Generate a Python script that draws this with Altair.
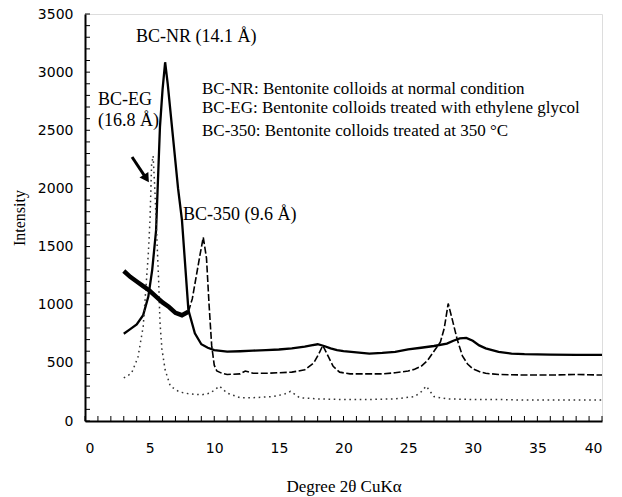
import altair as alt
import pandas as pd

# --- BC-NR: bentonite colloids at normal condition (solid line)
nr_x = [3, 3.5, 4, 4.5, 4.9, 5.2, 5.5, 5.8, 6.0, 6.2, 6.4, 6.8, 7.2, 7.5, 8.0, 8.5, 9.0, 9.5,
        10, 11, 12, 13, 14, 15, 16, 17, 17.5, 18, 18.5, 19, 19.5, 20, 21, 22, 23, 24, 25, 26,
        27, 28, 28.5, 29, 29.5, 30, 30.5, 31, 32, 33, 34, 36, 38, 40]
nr_y = [750, 790, 830, 910, 1070, 1300, 1640, 2530, 2850, 3085, 2900, 2450, 2000, 1730, 955,
        754, 660, 630, 610, 596, 600, 605, 610, 615, 625, 640, 650, 660, 645, 625, 610, 600,
        590, 580, 585, 595, 615, 630, 645, 665, 690, 710, 715, 690, 650, 625, 595, 580, 575,
        570, 568, 568]

# --- BC-EG: treated with ethylene glycol (dotted line)
eg_x = [3, 3.6, 4.1, 4.5, 4.9, 5.03, 5.15, 5.27, 5.4, 5.55, 5.7, 5.8, 5.95, 6.2, 6.6, 7.3, 8,
        9, 9.7, 10.4, 11, 12, 13, 14.5, 15.4, 15.9, 16.6, 18, 20, 22, 24, 25.5, 26, 26.4, 27,
        28, 30, 32, 34, 36, 38, 40]
eg_y = [370, 410, 550, 810, 1440, 1730, 2200, 2280, 2000, 1600, 1200, 850, 620, 440, 300, 250,
        235, 225, 240, 300, 240, 200, 200, 210, 230, 255, 200, 190, 185, 185, 190, 210, 250,
        300, 210, 190, 185, 185, 180, 180, 180, 180]

# --- BC-350: treated at 350 C (noisy low-angle part, then dashed)
h_low_x = [3, 3.5, 4, 4.5, 5, 5.5, 6, 6.5, 7, 7.5, 8]
h_low_y = [1290, 1240, 1200, 1160, 1120, 1070, 1020, 980, 930, 910, 940]
h_x = [8, 8.3, 8.6, 8.9, 9.15, 9.4, 9.6, 9.8, 10.0, 10.2, 10.6, 11, 12, 12.4, 13, 14, 15, 16,
       17, 17.7, 18.1, 18.4, 18.8, 19.2, 19.7, 20.5, 22, 23, 24, 25, 25.5, 26, 26.5, 27, 27.5,
       27.8, 28.1, 28.4, 28.8, 29.2, 29.6, 30, 30.5, 31, 32, 34, 36, 38, 40]
h_y = [940, 1050, 1240, 1430, 1580, 1400, 1000, 650, 480, 430, 410, 400, 405, 430, 410, 410,
       415, 420, 440, 500, 580, 650, 560, 470, 420, 405, 405, 405, 415, 430, 445, 470, 520,
       600, 680, 800, 1010, 880, 700, 560, 490, 450, 425, 410, 400, 395, 395, 400, 395]

# peak labels (left edge, baseline)
lab_text = ["BC-NR (14.1 Å)", "BC-EG", "(16.8 Å)", "BC-350 (9.6 Å)"]
lab_x = [3.95, 1.0, 1.0, 7.58]
lab_y = [3259, 2717, 2537, 1728]

# explanatory notes
note_text = ["BC-NR:  Bentonite colloids at normal condition",
             "BC-EG: Bentonite colloids treated with ethylene glycol",
             "BC-350: Bentonite colloids treated at 350 °C"]
note_x = [9.05, 9.05, 9.05]
note_y = [2808, 2649, 2451]

# arrow pointing at the BC-EG peak
arrow_x = [3.64]
arrow_y = [2270]
arrow_x2 = [4.75]
arrow_y2 = [2085]

x_minor = list(range(0, 41))
y_minor = list(range(0, 3501, 100))

W, H = 517, 407
serif = "Liberation Serif"
xs = alt.Scale(domain=[0, 40], nice=False, zero=False)
ys = alt.Scale(domain=[0, 3500], nice=False)

xaxis = alt.Axis(values=list(range(0, 41, 5)), ticks=False, grid=False, labelPadding=20,
                 labelFont="DejaVu Sans", labelFontSize=14, labelColor="black",
                 domainColor="black", domainWidth=2, title="Degree 2θ CuKα",
                 titleFont=serif, titleFontSize=17, titleFontWeight="normal",
                 titleColor="black", titlePadding=23)
yaxis = alt.Axis(values=list(range(0, 3501, 500)), ticks=False, grid=False, labelPadding=12,
                 format="d",
                 labelFont="DejaVu Sans", labelFontSize=14, labelColor="black",
                 domainColor="black", domainWidth=2, title="Intensity",
                 titleFont=serif, titleFontSize=16, titleFontWeight="normal",
                 titleColor="black", titlePadding=10)

nr = pd.DataFrame({"x": nr_x, "y": nr_y})
eg = pd.DataFrame({"x": eg_x, "y": eg_y})
hl = pd.DataFrame({"x": h_low_x, "y": h_low_y})
hh = pd.DataFrame({"x": h_x, "y": h_y})

base_nr = alt.Chart(nr).mark_line(color="black", strokeWidth=2.3).encode(
    x=alt.X("x:Q", scale=xs, axis=xaxis), y=alt.Y("y:Q", scale=ys, axis=yaxis))
line_eg = alt.Chart(eg).mark_line(color="#333", strokeWidth=1.5, strokeDash=[1.6, 3.6]).encode(
    x=alt.X("x:Q", scale=xs), y=alt.Y("y:Q", scale=ys))
line_hl = alt.Chart(hl).mark_line(color="black", strokeWidth=4.5).encode(
    x=alt.X("x:Q", scale=xs), y=alt.Y("y:Q", scale=ys))
line_hh = alt.Chart(hh).mark_line(color="black", strokeWidth=1.6, strokeDash=[7, 2.5]).encode(
    x=alt.X("x:Q", scale=xs), y=alt.Y("y:Q", scale=ys))

# inward minor ticks along the bottom and left edges
xt = alt.Chart(pd.DataFrame({"xm": x_minor})).mark_rule(
    color="black", strokeWidth=1).encode(
    x=alt.X("xm:Q", scale=xs), y=alt.value(H), y2=alt.value(H - 5))
yt = alt.Chart(pd.DataFrame({"ym": y_minor})).mark_rule(
    color="black", strokeWidth=1).encode(
    y=alt.Y("ym:Q", scale=ys), x=alt.value(0), x2=alt.value(5))

labels = alt.Chart(pd.DataFrame({"x": lab_x, "y": lab_y, "t": lab_text})).mark_text(
    font=serif, fontSize=18, align="left", baseline="alphabetic", color="black").encode(
    x=alt.X("x:Q", scale=xs), y=alt.Y("y:Q", scale=ys), text="t:N")
notes = alt.Chart(pd.DataFrame({"x": note_x, "y": note_y, "t": note_text})).mark_text(
    font=serif, fontSize=17, align="left", baseline="alphabetic", color="black").encode(
    x=alt.X("x:Q", scale=xs), y=alt.Y("y:Q", scale=ys), text="t:N")

adf = pd.DataFrame({"x": arrow_x, "y": arrow_y, "x2": arrow_x2, "y2": arrow_y2})
shaft = alt.Chart(adf).mark_rule(color="black", strokeWidth=3).encode(
    x=alt.X("x:Q", scale=xs), y=alt.Y("y:Q", scale=ys), x2="x2:Q", y2="y2:Q")
head = alt.Chart(adf).mark_point(shape="triangle-up", filled=True, color="black", size=110,
                                 angle=147, opacity=1).encode(
    x=alt.X("x2:Q", scale=xs), y=alt.Y("y2:Q", scale=ys))

chart = alt.layer(base_nr, line_eg, line_hh, line_hl, shaft, head, labels, notes, xt, yt).properties(
    width=W, height=H,
    autosize=alt.AutoSizeParams(type="none"),
    padding={"left": 85, "top": 14, "right": 20, "bottom": 76},
).configure_view(stroke="black", strokeWidth=1.5).configure(background="white")

chart.save("out.html", embed_options={"renderer": "svg", "actions": False})
